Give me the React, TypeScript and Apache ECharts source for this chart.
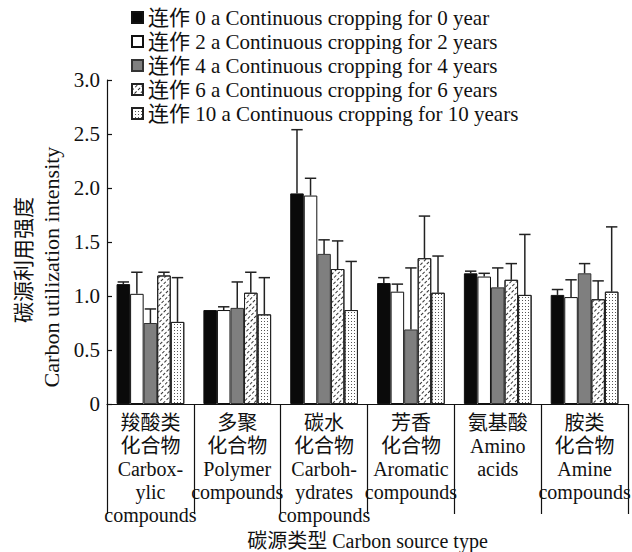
import React, { useEffect, useRef } from "react";
import * as echarts from "echarts";

const categories = [
  "羧酸类\n化合物\nCarbox-\nylic\ncompounds",
  "多聚\n化合物\nPolymer\ncompounds",
  "碳水\n化合物\nCarboh-\nydrates\ncompounds",
  "芳香\n化合物\nAromatic\ncompounds",
  "氨基酸\nAmino\nacids",
  "胺类\n化合物\nAmine\ncompounds",
];
const seriesNames = [
  "连作 0 a Continuous cropping for 0 year",
  "连作 2 a Continuous cropping for 2 years",
  "连作 4 a Continuous cropping for 4 years",
  "连作 6 a Continuous cropping for 6 years",
  "连作 10 a Continuous cropping for 10 years",
];
const cropping0 = [1.11, 0.87, 1.95, 1.12, 1.21, 1.01];
const cropping2 = [1.02, 0.87, 1.93, 1.04, 1.18, 0.99];
const cropping4 = [0.75, 0.89, 1.39, 0.69, 1.08, 1.21];
const cropping6 = [1.19, 1.03, 1.25, 1.35, 1.15, 0.97];
const cropping10 = [0.76, 0.83, 0.87, 1.03, 1.01, 1.04];
const err0 = [0.02, 0, 0.59, 0.05, 0.02, 0.05];
const err2 = [0.2, 0.03, 0.16, 0.07, 0.03, 0.16];
const err4 = [0.13, 0.24, 0.13, 0.57, 0.18, 0.09];
const err6 = [0.03, 0.19, 0.26, 0.39, 0.15, 0.17];
const err10 = [0.41, 0.34, 0.45, 0.34, 0.56, 0.6];

const values = [cropping0, cropping2, cropping4, cropping6, cropping10];
const errors = [err0, err2, err4, err6, err10];

const FONT = "'Liberation Serif', 'Noto Sans CJK SC', serif";
const CAT_GAP = 0.22;

const itemStyles: any[] = [
  { color: "#0a0a0a", borderColor: "#111", borderWidth: 1 },
  { color: "#ffffff", borderColor: "#111", borderWidth: 1 },
  { color: "#7f7f7f", borderColor: "#333", borderWidth: 1 },
  {
    color: "#ffffff",
    borderColor: "#222",
    borderWidth: 1,
    decal: {
      symbol: "rect",
      symbolSize: 1,
      color: "#333",
      dashArrayX: [[3, 2]],
      dashArrayY: [1, 3],
      rotation: -Math.PI / 4,
    },
  },
  {
    color: "#ffffff",
    borderColor: "#222",
    borderWidth: 1,
    decal: {
      symbol: "rect",
      symbolSize: 1,
      color: "#555",
      dashArrayX: [1, 2],
      dashArrayY: [1, 2],
    },
  },
];

export default function App() {
  const ref = useRef<HTMLDivElement>(null);
  useEffect(() => {
    if (!ref.current) return;
    const chart = echarts.init(ref.current, undefined, { renderer: "svg" });
    const barSeries = values.map((vals, si) => ({
      type: "bar",
      name: seriesNames[si],
      data: vals,
      barGap: "0%",
      barCategoryGap: CAT_GAP * 100 + "%",
      itemStyle: itemStyles[si],
      z: 2,
    }));
    const errSeries = values.map((vals, si) => ({
      type: "custom",
      name: "err" + si,
      silent: true,
      z: 3,
      data: vals.map((v, i) => [i, v, errors[si][i]]),
      encode: { x: 0, y: 1 },
      renderItem: (_params: any, api: any) => {
        const ci = api.value(0);
        const v = api.value(1);
        const e = api.value(2);
        if (!(e > 0)) return { type: "group", children: [] };
        const band = api.size([1, 0])[0];
        const total = band * (1 - CAT_GAP);
        const bw = total / 5;
        const base = api.coord([ci, v]);
        const cx = base[0] - total / 2 + bw * (si + 0.5);
        const y0 = base[1];
        const y1 = api.coord([ci, v + e])[1];
        const hw = bw * 0.42;
        const st = { stroke: "#222", lineWidth: 1.5 };
        return {
          type: "group",
          children: [
            { type: "line", shape: { x1: cx, y1: y0, x2: cx, y2: y1 }, style: st },
            { type: "line", shape: { x1: cx - hw, y1: y1, x2: cx + hw, y2: y1 }, style: st },
          ],
        };
      },
    }));
    chart.setOption({
      animation: false,
      textStyle: { fontFamily: FONT, color: "#111" },
      grid: { left: 107, right: 4, top: 80, bottom: 148, containLabel: false, outerBoundsMode: "none" },
      legend: {
        data: seriesNames,
        orient: "vertical",
        left: 126,
        top: 2,
        itemGap: 3,
        itemWidth: 11,
        itemHeight: 11,
        icon: "rect",
        textStyle: { fontFamily: FONT, fontSize: 21, color: "#111", lineHeight: 21 },
      },
      xAxis: {
        type: "category",
        data: categories,
        boundaryGap: true,
        name: "碳源类型 Carbon source type",
        nameLocation: "middle",
        nameGap: 124,
        nameTextStyle: { fontFamily: FONT, fontSize: 20, color: "#111" },
        axisLine: { lineStyle: { color: "#111", width: 1.2 } },
        axisTick: { show: true, length: 110, alignWithLabel: false, lineStyle: { color: "#111", width: 1.2 } },
        axisLabel: {
          interval: 0,
          margin: 7,
          fontFamily: FONT,
          fontSize: 20,
          lineHeight: 23,
          color: "#111",
        },
      },
      yAxis: {
        type: "value",
        min: 0,
        max: 3,
        interval: 0.5,
        splitLine: { show: false },
        axisLine: { show: true, lineStyle: { color: "#111", width: 1.2 } },
        axisTick: { show: true, inside: true, length: 5, lineStyle: { color: "#111", width: 1.2 } },
        axisLabel: {
          margin: 7,
          fontFamily: FONT,
          fontSize: 21,
          color: "#111",
          formatter: (v: number) => (v === 0 ? "0" : v.toFixed(1)),
        },
      },
      graphic: [
        {
          type: "text",
          x: 24,
          y: 260,
          rotation: Math.PI / 2,
          style: {
            text: "碳源利用强度",
            fontFamily: FONT,
            fontSize: 21,
            fill: "#111",
            align: "center",
            verticalAlign: "middle",
          },
        },
        {
          type: "text",
          x: 51,
          y: 267,
          rotation: Math.PI / 2,
          style: {
            text: "Carbon utilization intensity",
            fontFamily: FONT,
            fontSize: 22,
            fill: "#111",
            align: "center",
            verticalAlign: "middle",
          },
        },
      ],
      series: [...barSeries, ...errSeries],
    });
    return () => chart.dispose();
  }, []);
  return (
    <div
      ref={ref}
      style={{ position: "fixed", left: 0, top: 0, width: 632, height: 552, background: "#fff" }}
    />
  );
}
